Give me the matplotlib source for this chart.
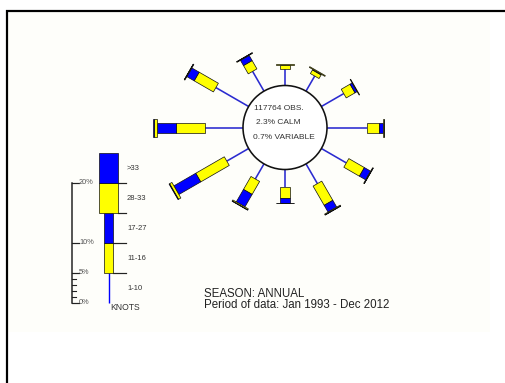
import numpy as np
import matplotlib
matplotlib.use("Agg")
import matplotlib.pyplot as plt
from matplotlib.patches import Polygon, Circle, Rectangle

plt.rcParams['font.family'] = ['Liberation Sans', 'DejaVu Sans']

# Wind direction sectors (degrees clockwise from north)
directions = [0, 30, 60, 90, 120, 150, 180, 210, 240, 270, 300, 330]

# Frequency (% of observations) in each speed class, per sector
speed_classes = ['1-10', '11-16', '17-27', '28-33', '>33']
freq_1_10 = [2.8, 2.9, 4.3, 6.6, 4.8, 3.8, 2.9, 2.9, 4.2, 6.3, 6.3, 3.8]
freq_11_16 = [0.6, 0.7, 1.7, 2.1, 3.0, 3.7, 1.9, 2.5, 5.5, 4.8, 3.7, 1.6]
freq_17_27 = [0.1, 0.1, 0.4, 0.7, 1.2, 1.3, 0.7, 2.4, 4.2, 3.3, 1.4, 1.0]
freq_28_33 = [0.05, 0.15, 0.1, 0.1, 0.1, 0.15, 0.1, 0.2, 0.45, 0.45, 0.1, 0.1]
freq_gt_33 = [0.0, 0.0, 0.0, 0.05, 0.03, 0.05, 0.03, 0.05, 0.1, 0.1, 0.03, 0.03]

total_obs = 117764
calm_pct = 2.3
variable_pct = 0.7
season = 'ANNUAL'
period = 'Jan 1993 - Dec 2012'

# Legend scale
legend_step = 5
legend_tick_values = [0, 5, 10, 20]
legend_minor_values = [1, 2, 3, 4]

# ---- styling ----
W_PX, H_PX, DPI = 505, 383, 100
YELLOW = '#ffff00'
BLUE = '#0000ff'
SPOKE = '#2b2bd0'
PX_PER_PCT = 6.0          # pixels per 1 % of frequency
CALM_R = 7.0              # radius of the calm circle, in % units
NARROW = 10 / PX_PER_PCT  # bar widths, in % units
WIDE = 18 / PX_PER_PCT
PT = 72 / DPI             # one pixel in points

fig = plt.figure(figsize=(W_PX / DPI, H_PX / DPI), dpi=DPI)
fig.patch.set_facecolor('white')

# page background and frame, in pixel coordinates
ax_bg = fig.add_axes([0, 0, 1, 1])
ax_bg.set_xlim(0, W_PX)
ax_bg.set_ylim(H_PX, 0)
ax_bg.axis('off')
ax_bg.add_patch(Rectangle((8, 12), 482, 320, facecolor='#fefefa', edgecolor='none'))
ax_bg.plot([7, 7, W_PX], [H_PX, 11, 11], color='black', lw=2.2 * PT,
           solid_joinstyle='miter')
ax_bg.text(204, 297.0, f'SEASON: {season}', fontsize=8.3, color='#222222',
           va='baseline', ha='left')
ax_bg.text(204, 308.0, f'Period of data: {period}', fontsize=8.3, color='#222222',
           va='baseline', ha='left')


def axes_from_pixels(x0, y0, x1, y1):
    return fig.add_axes([x0 / W_PX, 1 - y1 / H_PX, (x1 - x0) / W_PX, (y1 - y0) / H_PX])


# ---- wind rose ----
cx, cy, half = 285.0, 127.5, 125.0
ax = axes_from_pixels(cx - half, cy - half, cx + half, cy + half)
lim = half / PX_PER_PCT
ax.set_xlim(-lim, lim)
ax.set_ylim(-lim, lim)
ax.set_aspect('equal')
ax.axis('off')
ax.patch.set_alpha(0)


def spoke_bar(theta, r0, r1, width, color):
    u = np.array([np.sin(theta), np.cos(theta)])
    n = np.array([np.cos(theta), -np.sin(theta)])
    pts = [r0 * u + width / 2 * n, r1 * u + width / 2 * n,
           r1 * u - width / 2 * n, r0 * u - width / 2 * n]
    ax.add_patch(Polygon(pts, closed=True, facecolor=color, edgecolor='#111111',
                         lw=0.7 * PT, joinstyle='miter', clip_on=False, zorder=3))


for i, d in enumerate(directions):
    th = np.radians(d)
    u = np.array([np.sin(th), np.cos(th)])
    r = CALM_R
    r_end = r + freq_1_10[i]
    ax.plot([r * u[0], r_end * u[0]], [r * u[1], r_end * u[1]], color=SPOKE,
            lw=1.6 * PT, solid_capstyle='butt', zorder=2, clip_on=False)
    r = r_end
    for val, wdt, col in [(freq_11_16[i], NARROW, YELLOW), (freq_17_27[i], NARROW, BLUE),
                          (freq_28_33[i], WIDE, YELLOW), (freq_gt_33[i], WIDE, BLUE)]:
        if val > 0:
            spoke_bar(th, r, r + val, wdt, col)
            r += val

ax.add_patch(Circle((0, 0), CALM_R, facecolor='white', edgecolor='#111111',
                    lw=1.6 * PT, zorder=4))
tx = -5.2
ax.text(tx, 3.1, f'{total_obs} OBS.', fontsize=6.0, color='#333333',
        va='center', ha='left', zorder=5)
ax.text(tx + 0.4, 0.75, f'{calm_pct}% CALM', fontsize=6.0, color='#333333',
        va='center', ha='left', zorder=5)
ax.text(tx - 0.2, -1.7, f'{variable_pct}% VARIABLE', fontsize=6.0, color='#333333',
        va='center', ha='left', zorder=5)

# ---- speed legend ----
y0_px = 303.0
lx0, lx1, ly0, ly1 = 55, 175, 140, 320
lg = axes_from_pixels(lx0, ly0, lx1, ly1)
lg.set_xlim(lx0, lx1)
lg.set_ylim((y0_px - ly1) / PX_PER_PCT, (y0_px - ly0) / PX_PER_PCT)
lg.axis('off')
lg.patch.set_alpha(0)

bx = 108.5
nw, ww = 9, 19
edges = [k * legend_step for k in range(len(speed_classes) + 1)]
lg.plot([bx, bx], [edges[0], edges[1]], color=BLUE, lw=1.4 * PT, solid_capstyle='butt')
legend_style = [(nw, YELLOW), (nw, BLUE), (ww, YELLOW), (ww, BLUE)]
for k, (wdt, col) in enumerate(legend_style, start=1):
    lg.add_patch(Rectangle((bx - wdt / 2, edges[k]), wdt, edges[k + 1] - edges[k],
                           facecolor=col, edgecolor='#111111', lw=0.7 * PT, zorder=3))
for k in range(1, len(speed_classes)):
    wdt = nw if k <= 2 else ww
    lg.plot([bx + wdt / 2, 126], [edges[k], edges[k]], color='#222222', lw=1.2 * PT)
for k, lab in enumerate(speed_classes):
    lg.text(127, (edges[k] + edges[k + 1]) / 2, lab, fontsize=5.5, color='#333333',
            va='center', ha='left')
lg.text(110, -0.7, 'KNOTS', fontsize=6.2, color='#333333', va='center', ha='left')

# percentage axis
ax_x = 72
lg.plot([ax_x, ax_x], [0, max(legend_tick_values)], color='#222222', lw=1.5 * PT)
for v in legend_tick_values:
    lg.plot([ax_x, ax_x + 7], [v, v], color='#222222', lw=1.2 * PT)
    lg.text(ax_x + 7, v, f'{v}%', fontsize=5.3, color='#555555', va='center', ha='left')
for v in legend_minor_values:
    lg.plot([ax_x, ax_x + 4], [v, v], color='#222222', lw=1.1 * PT)

fig.savefig('out.png', dpi=DPI)
